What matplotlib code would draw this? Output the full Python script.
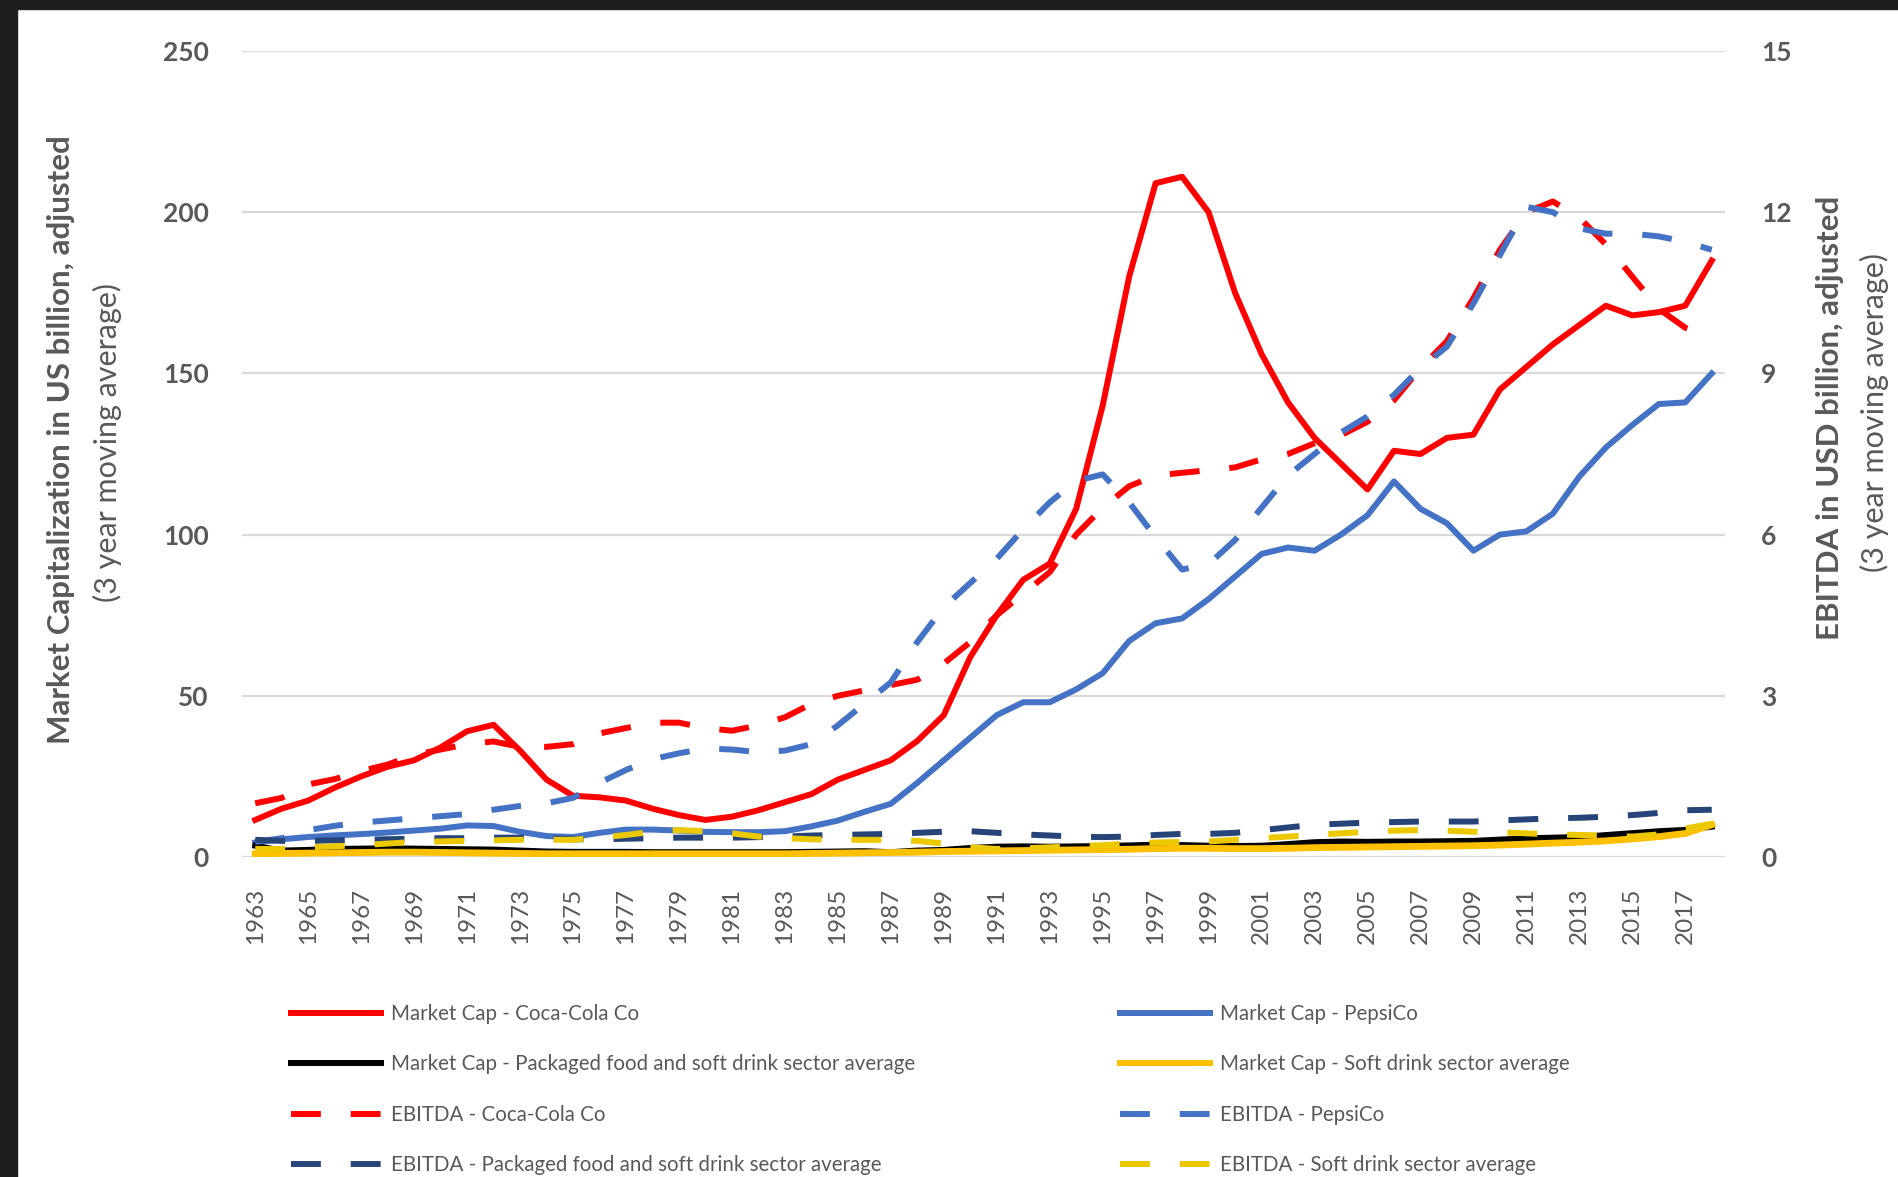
import matplotlib
matplotlib.use("Agg")
import matplotlib.pyplot as plt
from matplotlib.patches import Rectangle
from matplotlib.lines import Line2D
import numpy as np

years = list(range(1963, 2019))
tick_years = list(range(1963, 2018, 2))

mc_coke = [11.5, 15, 17.5, 21.5, 25, 28, 30, 34, 39, 41,
           33, 24, 19, 18.5, 17.5, 15, 13, 11.5, 12.5, 14.5,
           17, 19.5, 24, 27, 30, 36, 44, 62, 75, 86,
           91, 108, 140, 180, 209, 211, 200, 175, 156, 141,
           130, 122, 114, 126, 125, 130, 131, 145, 152, 159,
           165, 171, 168, 169, 171, 185]
mc_pepsi = [4.5, 5.5, 6.2, 6.7, 7.1, 7.6, 8.2, 8.8, 9.8, 9.6,
            7.8, 6.5, 6.2, 7.5, 8.5, 8.5, 8.2, 7.8, 7.7, 7.7,
            8, 9.5, 11.3, 14, 16.5, 23, 30, 37, 44, 48,
            48, 52, 57, 67, 72.5, 74, 80, 87, 94, 96,
            95, 100, 106, 116.5, 108, 103.5, 95, 100, 101, 106.5,
            118, 127, 134, 140.5, 141, 150]
mc_packaged = [3.5, 2.0, 2.2, 2.5, 2.6, 2.7, 2.6, 2.5, 2.4, 2.3,
               2.0, 1.7, 1.6, 1.6, 1.6, 1.5, 1.5, 1.5, 1.5, 1.5,
               1.5, 1.6, 1.7, 1.8, 1.5, 2.0, 2.2, 2.8, 3.2, 3.3,
               3.2, 3.3, 3.4, 3.6, 3.8, 3.7, 3.5, 3.4, 3.5, 4.0,
               4.6, 4.8, 4.7, 4.8, 4.8, 4.9, 5.0, 5.4, 5.8, 6.0,
               6.2, 6.8, 7.4, 8.0, 8.4, 9.4]
mc_softdrink = [1.0, 1.1, 1.2, 1.3, 1.4, 1.5, 1.5, 1.4, 1.3, 1.2,
                1.1, 1.0, 1.0, 1.0, 1.0, 1.0, 1.0, 1.0, 1.0, 1.0,
                1.0, 1.1, 1.2, 1.3, 1.4, 1.5, 1.7, 1.8, 1.9, 2.0,
                2.1, 2.2, 2.3, 2.4, 2.6, 2.7, 2.7, 2.6, 2.6, 2.7,
                2.9, 3.0, 3.1, 3.2, 3.3, 3.4, 3.5, 3.7, 4.0, 4.3,
                4.6, 5.0, 5.6, 6.3, 7.3, 10.0]
ebitda_coke = [1.0, 1.1, 1.35, 1.45, 1.6, 1.72, 1.9, 2.0, 2.1, 2.15,
               2.05, 2.05, 2.1, 2.3, 2.4, 2.5, 2.5, 2.4, 2.35, 2.45,
               2.6, 2.85, 3.0, 3.1, 3.2, 3.3, 3.6, 4.0, 4.5, 4.9,
               5.3, 6.0, 6.5, 6.9, 7.1, 7.15, 7.2, 7.25, 7.4, 7.5,
               7.7, 7.85, 8.1, 8.5, 9.1, 9.6, 10.4, 11.3, 12.0, 12.2,
               11.9, 11.4, 10.8, 10.2, 9.85, 9.65]
ebitda_pepsi = [0.28, 0.35, 0.5, 0.58, 0.64, 0.68, 0.72, 0.76, 0.8, 0.88,
                0.95, 1.0, 1.1, 1.38, 1.62, 1.82, 1.93, 2.02, 2.0, 1.95,
                1.98, 2.1, 2.45, 2.85, 3.25, 4.0, 4.65, 5.1, 5.55, 6.1,
                6.6, 7.0, 7.12, 6.6, 5.95, 5.35, 5.45, 5.9, 6.5, 7.1,
                7.5, 7.9, 8.2, 8.6, 9.1, 9.5, 10.3, 11.2, 12.1, 12.0,
                11.7, 11.6, 11.6, 11.55, 11.45, 11.3]
ebitda_packaged = [0.32, 0.30, 0.30, 0.31, 0.32, 0.33, 0.34, 0.35, 0.35, 0.36,
                   0.36, 0.35, 0.33, 0.33, 0.34, 0.35, 0.36, 0.36, 0.36, 0.37,
                   0.38, 0.40, 0.41, 0.42, 0.43, 0.45, 0.47, 0.48, 0.45, 0.42,
                   0.40, 0.38, 0.37, 0.38, 0.41, 0.43, 0.43, 0.45, 0.50, 0.55,
                   0.60, 0.62, 0.64, 0.65, 0.66, 0.66, 0.66, 0.68, 0.70, 0.72,
                   0.73, 0.75, 0.78, 0.82, 0.87, 0.88]
ebitda_softdrink = [0.15, 0.15, 0.18, 0.20, 0.22, 0.25, 0.28, 0.29, 0.30, 0.31,
                    0.32, 0.32, 0.32, 0.36, 0.41, 0.47, 0.50, 0.48, 0.44, 0.38,
                    0.35, 0.33, 0.32, 0.32, 0.32, 0.30, 0.25, 0.18, 0.15, 0.16,
                    0.18, 0.20, 0.22, 0.25, 0.27, 0.28, 0.29, 0.32, 0.35, 0.38,
                    0.41, 0.44, 0.47, 0.49, 0.50, 0.49, 0.47, 0.46, 0.44, 0.42,
                    0.41, 0.40, 0.38, 0.42, 0.53, 0.62]

labels_left = ["Market Cap - Coca-Cola Co",
               "Market Cap - Packaged food and soft drink sector average",
               "EBITDA - Coca-Cola Co",
               "EBITDA - Packaged food and soft drink sector average"]
labels_right = ["Market Cap - PepsiCo",
                "Market Cap - Soft drink sector average",
                "EBITDA - PepsiCo",
                "EBITDA - Soft drink sector average"]

RED = "#FF0000"
BLUE = "#4472C4"
BLACK = "#000000"
GOLD = "#FFC000"
NAVY = "#264478"
YEL = "#EBC800"
GRAY = "#595959"

FONT = ["Lato", "DejaVu Sans"]
plt.rcParams["font.family"] = FONT

W, H = 1898, 1177
fig = plt.figure(figsize=(W / 100, H / 100), dpi=100)
fig.patch.set_facecolor("white")

ax = fig.add_axes([242 / W, 1 - 857 / H, (1725 - 242) / W, (857 - 51) / H])
ax2 = ax.twinx()

LW = 4.3
DASH = (5, 5)

ax.plot(years, mc_coke, color=RED, lw=LW, solid_joinstyle="round", zorder=3)
ax.plot(years, mc_pepsi, color=BLUE, lw=LW, solid_joinstyle="round", zorder=3)
ax.plot(years, mc_packaged, color=BLACK, lw=LW, solid_joinstyle="round", zorder=3)
ax.plot(years, mc_softdrink, color=GOLD, lw=LW + 0.6, solid_joinstyle="round", zorder=3)

ax2.plot(years, ebitda_coke, color=RED, lw=LW, dashes=DASH, zorder=3)
ax2.plot(years, ebitda_pepsi, color=BLUE, lw=LW, dashes=DASH, zorder=3)
ax2.plot(years, ebitda_packaged, color=NAVY, lw=LW, dashes=DASH, zorder=3)
ax2.plot(years, ebitda_softdrink, color=YEL, lw=LW, dashes=DASH, zorder=3)

ax.set_xlim(1962.5, 2018.5)
ax.set_ylim(0, 250)
ax2.set_ylim(0, 15)
ax.set_yticks(range(0, 251, 50))
ax2.set_yticks(range(0, 16, 3))
ax.set_xticks(tick_years)
ax.set_xticklabels([str(y) for y in tick_years], rotation=90)

ax.grid(axis="y", color="#D9D9D9", lw=1.6)
ax.set_axisbelow(True)
for a in (ax, ax2):
    for s in a.spines.values():
        s.set_visible(False)
    a.set_facecolor("none")

ax.tick_params(axis="y", length=0, pad=24, labelsize=19, labelcolor=GRAY)
ax2.tick_params(axis="y", length=0, pad=26, labelsize=19, labelcolor=GRAY)
ax.tick_params(axis="x", length=0, pad=22, labelsize=17.5, labelcolor=GRAY)
for t in ax.get_yticklabels() + ax2.get_yticklabels():
    t.set_fontweight("bold")

# axis titles
fig.text(61 / W, 1 - 440 / H, "Market Capitalization in US billion, adjusted",
         rotation=90, ha="center", va="center", fontsize=22.5, fontweight="bold", color=GRAY)
fig.text(107 / W, 1 - 442 / H, "(3 year moving average)",
         rotation=90, ha="center", va="center", fontsize=22, color=GRAY)
fig.text(1830 / W, 1 - 418 / H, "EBITDA in USD billion, adjusted",
         rotation=90, ha="center", va="center", fontsize=22.5, fontweight="bold", color=GRAY)
fig.text(1874 / W, 1 - 412 / H, "(3 year moving average)",
         rotation=90, ha="center", va="center", fontsize=22, color=GRAY)

# legends
def handles(colors, styles):
    hs = []
    for c, st in zip(colors, styles):
        if st == "-":
            hs.append(Line2D([], [], color=c, lw=LW))
        else:
            hs.append(Line2D([], [], color=c, lw=LW, dashes=DASH))
    return hs

hl = handles([RED, BLACK, RED, NAVY], ["-", "-", "--", "--"])
hr = handles([BLUE, GOLD, BLUE, YEL], ["-", "-", "--", "--"])
leg_kw = dict(frameon=False, fontsize=14.8, handlelength=4.4, handletextpad=0.45,
              labelspacing=1.48, borderpad=0, borderaxespad=0,
              labelcolor=GRAY, loc="upper left")
lg1 = fig.legend(hl, labels_left, bbox_to_anchor=(291 / W, 1 - 1004 / H), **leg_kw)
lg2 = fig.legend(hr, labels_right, bbox_to_anchor=(1120 / W, 1 - 1004 / H), **leg_kw)

# dark frame edges of the screenshot
fig.add_artist(Rectangle((0, 1 - 9 / H), 1, 9 / H, transform=fig.transFigure,
                         color="#1E1E1E", zorder=10))
fig.add_artist(Rectangle((0, 0), 17 / W, 1, transform=fig.transFigure,
                         color="#1E1E1E", zorder=10))

fig.savefig("out.png", dpi=100, facecolor="white")
